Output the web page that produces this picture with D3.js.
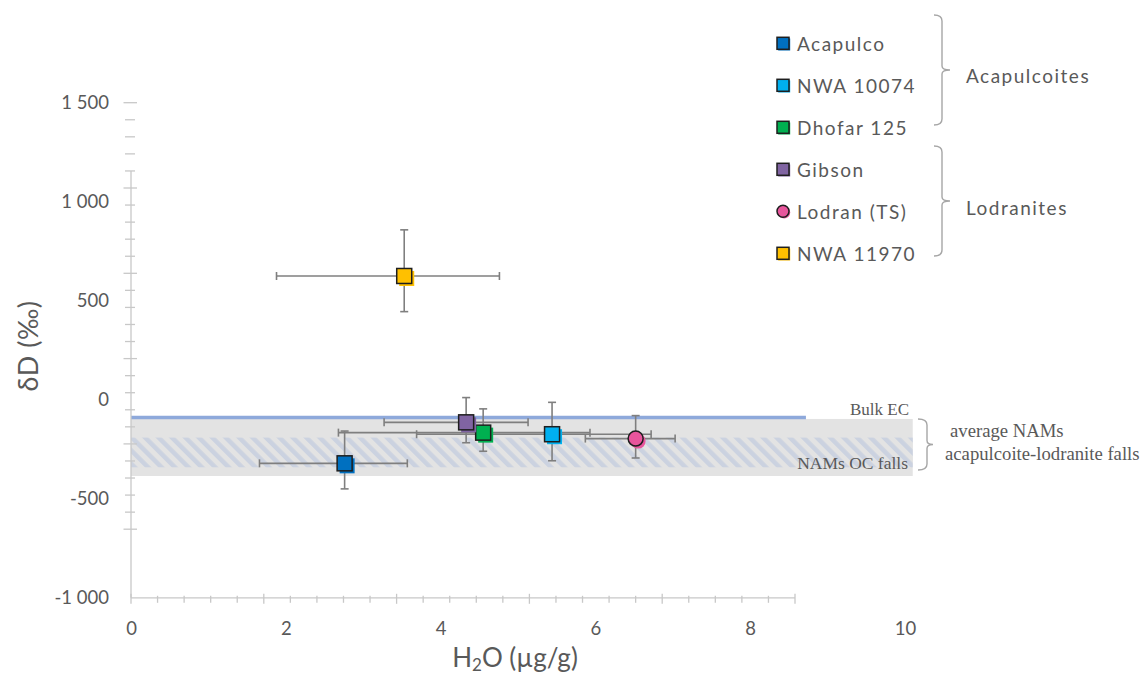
<!DOCTYPE html>
<html><head><meta charset="utf-8">
<script src="https://cdn.jsdelivr.net/npm/d3@7"></script>
<style>body{margin:0;background:#fff} svg{display:block}</style>
</head><body><svg id="c" width="1143" height="674"></svg>
<script>
// ---- data ----
const names = ["Acapulco","NWA 10074","Dhofar 125","Gibson","Lodran (TS)","NWA 11970"];
const colors = ["#0070C0","#00B0F0","#00B050","#8064A2","#E8559C","#FFC000"];
const shapes = ["square","square","square","square","circle","square"];
const h2o = [2.76, 5.44, 4.55, 4.33, 6.52, 3.53];
const h2oErrLow = [1.10, 1.75, 1.87, 1.06, 0.65, 1.65];
const h2oErrHigh = [0.81, 1.28, 1.38, 0.80, 0.51, 1.23];
const dD = [-321, -174, -166, -114, -196, 625];
const dDErrHigh = [163, 161, 120, 125, 116, 233];
const dDErrLow = [129, 134, 94, 103, 98, 180];
const xTicks = [0, 2, 4, 6, 8, 10];
const yTicks = [-1000, -500, 0, 500, 1000, 1500];
const bulkEC = -90, bulkECRange = [0, 8.72];
const namsAcLod = [-97, -385], namsAcLodRange = [0, 10.1];
const namsOC = [-191, -341];
const groups = ["Acapulcoites", "Lodranites"];

// ---- scales ----
const svg = d3.select("#c");
const x = d3.scaleLinear().domain([0, 10]).range([131, 905]);
const y = d3.scaleLinear().domain([-1000, 1500]).range([597.8, 102.7]);
const rulerX = d3.scaleLinear().domain([0, 25]).range([131, 795]);
const rulerY = d3.scaleLinear().domain([0, 25]).range([102.7, 529.2]);
const legendY = d3.scaleLinear().domain([0, 5]).range([43.3, 253.3]);
const grey = "#595959", axisCol = "#c8c8c8";
const fmt = d => (d < 0 ? "-" : "") + d3.format(",")(Math.abs(d)).replace(/,/g, " ");

// ---- defs (hatch) ----
const defs = svg.append("defs");
const pat = defs.append("pattern").attr("id","hatch").attr("patternUnits","userSpaceOnUse")
  .attr("width", 9.5).attr("height", 9.5).attr("patternTransform","rotate(-45)");
pat.append("rect").attr("width",9.5).attr("height",9.5).attr("fill","#e3e3e3");
pat.append("rect").attr("width",4.5).attr("height",9.5).attr("fill","#cbd2e0");

// ---- reference bands ----
svg.append("rect").attr("x", x(namsAcLodRange[0])).attr("width", x(namsAcLodRange[1]) - x(namsAcLodRange[0]))
  .attr("y", y(namsAcLod[0])).attr("height", y(namsAcLod[1]) - y(namsAcLod[0])).attr("fill", "#e3e3e3");
svg.append("rect").attr("x", x(namsAcLodRange[0])).attr("width", x(namsAcLodRange[1]) - x(namsAcLodRange[0]))
  .attr("y", y(namsOC[0])).attr("height", y(namsOC[1]) - y(namsOC[0])).attr("fill", "url(#hatch)");
svg.append("line").attr("x1", x(bulkECRange[0])).attr("x2", x(bulkECRange[1]))
  .attr("y1", y(bulkEC)).attr("y2", y(bulkEC)).attr("stroke", "#8EA9DB").attr("stroke-width", 3.5);

// ---- axes rulers ----
const ax = svg.append("g").attr("stroke", axisCol).attr("stroke-width", 1.3);
ax.append("line").attr("x1", rulerX(0)).attr("x2", rulerX(25)).attr("y1", y(-1000)).attr("y2", y(-1000));
d3.range(0, 26).forEach(k => {
  const maj = k % 5 === 0;
  ax.append("line").attr("x1", rulerX(k)).attr("x2", rulerX(k))
    .attr("y1", y(-1000) - (maj ? 4 : 2)).attr("y2", y(-1000) + (maj ? 6 : 5));
});
ax.append("line").attr("x1", 131).attr("x2", 131).attr("y1", rulerY(4)).attr("y2", y(-1000));
d3.range(0, 26).forEach(k => {
  const maj = k % 5 === 0;
  ax.append("line").attr("x1", maj ? 123.5 : 125).attr("x2", maj ? 137 : 135)
    .attr("y1", rulerY(k)).attr("y2", rulerY(k));
});

// ---- tick labels ----
const gy = svg.append("g").attr("transform", "translate(131,0)")
  .call(d3.axisLeft(y).tickValues(yTicks).tickSize(0).tickPadding(22).tickFormat(fmt));
gy.select(".domain").remove();
gy.selectAll("text").attr("font-family", "Lato, 'Open Sans', sans-serif").attr("font-size", 18.5).attr("fill", grey);
const gx = svg.append("g").attr("transform", "translate(0,598)")
  .call(d3.axisBottom(x).tickValues(xTicks).tickSize(0).tickPadding(24));
gx.select(".domain").remove();
gx.selectAll("text").attr("font-family", "Lato, 'Open Sans', sans-serif").attr("font-size", 18.5).attr("fill", grey);

// axis titles
svg.append("text").attr("transform", "translate(27,346) rotate(-90)").attr("text-anchor","middle")
  .attr("dominant-baseline","central").attr("font-family","Lato, 'Open Sans', sans-serif").attr("font-size",27)
  .attr("letter-spacing", 0.5).attr("fill", grey).text("δD (‰)");
const xt = svg.append("text").attr("x", 515).attr("y", 667).attr("text-anchor","middle")
  .attr("font-family","Lato, 'Open Sans', sans-serif").attr("font-size",26).attr("fill", grey);
xt.append("tspan").text("H");
xt.append("tspan").attr("font-size",17).attr("dy",4).text("2");
xt.append("tspan").attr("dy",-4).text("O (µg/g)");

// ---- error bars ----
const eb = svg.append("g").attr("stroke", "#7f7f7f").attr("stroke-width", 1.6);
names.forEach((n, i) => {
  const cx = x(h2o[i]), cy = y(dD[i]);
  const xl = x(h2o[i] - h2oErrLow[i]), xr = x(h2o[i] + h2oErrHigh[i]);
  const yt = y(dD[i] + dDErrHigh[i]), yb = y(dD[i] - dDErrLow[i]);
  eb.append("line").attr("x1", xl).attr("x2", xr).attr("y1", cy).attr("y2", cy);
  eb.append("line").attr("x1", xl).attr("x2", xl).attr("y1", cy - 4).attr("y2", cy + 4);
  eb.append("line").attr("x1", xr).attr("x2", xr).attr("y1", cy - 4).attr("y2", cy + 4);
  eb.append("line").attr("x1", cx).attr("x2", cx).attr("y1", yt).attr("y2", yb);
  eb.append("line").attr("x1", cx - 4).attr("x2", cx + 4).attr("y1", yt).attr("y2", yt);
  eb.append("line").attr("x1", cx - 4).attr("x2", cx + 4).attr("y1", yb).attr("y2", yb);
});

// ---- markers ----
function marker(g, shape, cx, cy, s, col, off) {
  if (shape === "circle") {
    g.append("circle").attr("cx", cx + off).attr("cy", cy + off).attr("r", s / 2).attr("fill", col);
    g.append("circle").attr("cx", cx).attr("cy", cy).attr("r", s / 2).attr("fill", col)
      .attr("stroke", "#1e1e1e").attr("stroke-width", 1.5);
  } else {
    g.append("rect").attr("x", cx - s / 2 + off).attr("y", cy - s / 2 + off).attr("width", s).attr("height", s).attr("fill", col);
    g.append("rect").attr("x", cx - s / 2).attr("y", cy - s / 2).attr("width", s).attr("height", s).attr("fill", col)
      .attr("stroke", "#1e1e1e").attr("stroke-width", 1.5);
  }
}
const mk = svg.append("g");
names.forEach((n, i) => marker(mk, shapes[i], x(h2o[i]), y(dD[i]), 15, colors[i], 2.5));

// ---- legend ----
const lg = svg.append("g");
names.forEach((n, i) => {
  marker(lg, shapes[i], 783, legendY(i), 12, colors[i], 1.2);
  lg.append("text").attr("x", 797).attr("y", legendY(i)).attr("dominant-baseline","central")
    .attr("font-family","Lato, 'Open Sans', sans-serif").attr("font-size",19).attr("letter-spacing",1.5)
    .attr("fill", grey).text(n);
});
function brace(y0, y1, xa, xb, xt) {
  const ym = (y0 + y1) / 2;
  return `M${xa},${y0} Q${xb},${y0} ${xb},${y0+6} L${xb},${ym-4} Q${xb},${ym} ${xt},${ym} Q${xb},${ym} ${xb},${ym+4} L${xb},${y1-6} Q${xb},${y1} ${xa},${y1}`;
}
const br = svg.append("g").attr("fill","none").attr("stroke","#a6a6a6").attr("stroke-width",1.4);
br.append("path").attr("d", brace(15, 125, 934, 942, 950));
br.append("path").attr("d", brace(146, 256, 934, 942, 950));
br.append("path").attr("d", brace(y(namsAcLod[0]), y(namsAcLod[1]) - 6, 918, 927, 933));
[[groups[0], 75], [groups[1], 207]].forEach(([t, yy]) =>
  svg.append("text").attr("x", 966).attr("y", yy).attr("dominant-baseline","central")
    .attr("font-family","Lato, 'Open Sans', sans-serif").attr("font-size",19).attr("letter-spacing",1.5)
    .attr("fill", grey).text(t));

// ---- band annotations ----
const serif = "'Liberation Serif', 'DejaVu Serif', serif";
function note(t, xx, yy, anchor, fs) {
  svg.append("text").attr("x", xx).attr("y", yy).attr("text-anchor", anchor).attr("dominant-baseline","central")
    .attr("font-family", serif).attr("font-size", fs).attr("fill", grey).text(t);
}
note("Bulk EC", 909, y(bulkEC) - 8, "end", 17);
note("NAMs OC falls", 908, 463, "end", 17.5);
note("average NAMs", 950, 430, "start", 18.7);
note("acapulcoite-lodranite falls", 945, 453, "start", 18.7);
</script></body></html>
